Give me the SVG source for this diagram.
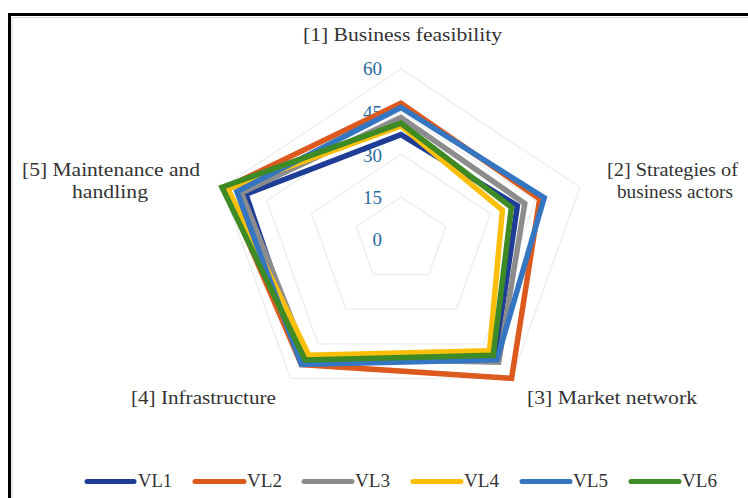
<svg xmlns="http://www.w3.org/2000/svg" width="748" height="498" viewBox="0 0 748 498">
<style>
.grid{fill:none;stroke:#ececec;stroke-width:1.2}
.s{fill:none;stroke-width:5.5;stroke-linejoin:miter;stroke-miterlimit:10}
.cat{font-family:"Liberation Serif","Times New Roman",serif;font-size:18px;fill:#333333}
.num{font-family:"Liberation Serif","Times New Roman",serif;font-size:19px;fill:#2A6B9E;text-anchor:end}
.leg{font-family:"Liberation Serif","Times New Roman",serif;font-size:18px;fill:#333333}
.ll{stroke-width:5;stroke-linecap:round}
.vl1{stroke:#1E3D96}.vl2{stroke:#DC5A1E}.vl3{stroke:#8C8C8C}.vl4{stroke:#FBBF0A}.vl5{stroke:#3476C2}.vl6{stroke:#3E8B26}
</style>
<rect width="748" height="498" fill="#ffffff"/>
<path d="M9.5 498 V14.5 H748" fill="none" stroke="#000000" stroke-width="3"/>
<path d="M12 498 V17.5 H748" fill="none" stroke="#d8d8d8" stroke-width="1"/>
<g id="grid">
<polygon class="grid" points="401,69 580,187.2 511.6,378.3 290.4,378.3 222,187.2"/>
<polygon class="grid" points="401,111.75 535.3,200.4 484,343.8 318,343.8 266.7,200.4"/>
<polygon class="grid" points="401,154.5 490.5,213.6 456.3,309.2 345.7,309.2 311.5,213.6"/>
<polygon class="grid" points="401,197.25 445.8,226.8 428.7,274.6 373.3,274.6 356.2,226.8"/>
</g>
<g id="axis-labels">
<text class="num" x="382" y="75">60</text>
<text class="num" x="382" y="119">45</text>
<text class="num" x="382" y="162">30</text>
<text class="num" x="382" y="204">15</text>
<text class="num" x="382" y="246">0</text>
</g>
<g id="series">
<polygon id="VL1" class="s vl1" points="401,134.6 517.4,205.7 495,357.6 303.3,362.2 245.9,194.2"/>
<polygon id="VL2" class="s vl2" points="401,103.2 539.7,199 511.6,378.3 301.4,364.5 225,188"/>
<polygon id="VL3" class="s vl3" points="401,117.5 524.8,203.5 498.7,362.2 307,357.6 241.4,192.9"/>
<polygon id="VL4" class="s vl4" points="401,126 502.4,210.1 489.5,350.7 308.8,355.3 228,188.9"/>
<polygon id="VL5" class="s vl5" points="401,107.5 544.2,197.7 496.9,359.9 301.4,364.5 236.9,191.6"/>
<polygon id="VL6" class="s vl6" points="401,123.2 511.4,207.4 493.2,355.3 305.1,359.9 222,187.2"/>
</g>
<g id="categories">
<text class="cat" x="303" y="41" textLength="199" lengthAdjust="spacingAndGlyphs">[1] Business feasibility</text>
<text class="cat" x="607" y="176" textLength="131" lengthAdjust="spacingAndGlyphs">[2] Strategies of</text>
<text class="cat" x="617" y="198" textLength="116" lengthAdjust="spacingAndGlyphs">business actors</text>
<text class="cat" x="527" y="404" textLength="170" lengthAdjust="spacingAndGlyphs">[3] Market network</text>
<text class="cat" x="131" y="404" textLength="145" lengthAdjust="spacingAndGlyphs">[4] Infrastructure</text>
<text class="cat" x="22" y="176" textLength="178" lengthAdjust="spacingAndGlyphs">[5] Maintenance and</text>
<text class="cat" x="72" y="198" textLength="76" lengthAdjust="spacingAndGlyphs">handling</text>
</g>
<g id="legend">
<line class="ll vl1" x1="87" y1="481.5" x2="134" y2="481.5"/>
<text class="leg" x="138" y="487" textLength="34" lengthAdjust="spacingAndGlyphs">VL1</text>
<line class="ll vl2" x1="195" y1="481.5" x2="244" y2="481.5"/>
<text class="leg" x="247" y="487" textLength="35" lengthAdjust="spacingAndGlyphs">VL2</text>
<line class="ll vl3" x1="304" y1="481.5" x2="352" y2="481.5"/>
<text class="leg" x="355" y="487" textLength="35" lengthAdjust="spacingAndGlyphs">VL3</text>
<line class="ll vl4" x1="413" y1="481.5" x2="461" y2="481.5"/>
<text class="leg" x="464" y="487" textLength="35" lengthAdjust="spacingAndGlyphs">VL4</text>
<line class="ll vl5" x1="522" y1="481.5" x2="570" y2="481.5"/>
<text class="leg" x="573" y="487" textLength="35" lengthAdjust="spacingAndGlyphs">VL5</text>
<line class="ll vl6" x1="631" y1="481.5" x2="679" y2="481.5"/>
<text class="leg" x="682" y="487" textLength="35" lengthAdjust="spacingAndGlyphs">VL6</text>
</g>
</svg>
